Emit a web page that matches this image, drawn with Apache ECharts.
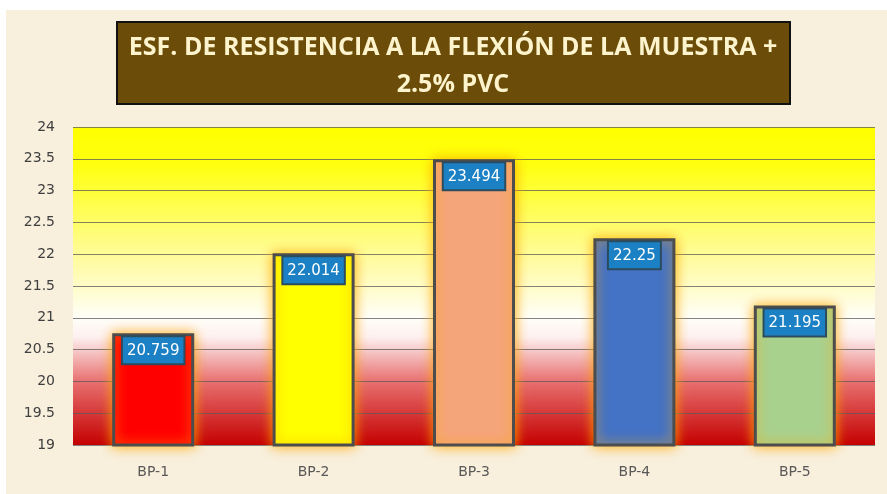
<!DOCTYPE html>
<html>
<head>
<meta charset="utf-8">
<script src="https://cdn.jsdelivr.net/npm/echarts@6/dist/echarts.min.js"></script>
<style>
    html, body { margin: 0; padding: 0; background: #ffffff; }
    #chart { width: 887px; height: 494px; }
</style>
</head>
<body>
<div id="chart"></div>
<script>
// values
const categories = ["BP-1", "BP-2", "BP-3", "BP-4", "BP-5"];
const values = [20.759, 22.014, 23.494, 22.25, 21.195];
const barColors = ["#ff0000", "#ffff00", "#f4a57a", "#4472c4", "#a9d18e"];
const titleLines = ["ESF. DE RESISTENCIA A LA FLEXIÓN DE LA MUESTRA +", "2.5% PVC"];

var chart = echarts.init(document.getElementById("chart"));

// yellow at the top, white around 21, red at the bottom
var plotFill = new echarts.graphic.LinearGradient(0, 0, 0, 1, [
    { offset: 0, color: "#ffff00" },
    { offset: 0.12, color: "#ffff10" },
    { offset: 0.45, color: "#fffbb0" },
    { offset: 0.6, color: "#fffef8" },
    { offset: 0.66, color: "#fdf0f0" },
    { offset: 0.8, color: "#e87070" },
    { offset: 1, color: "#c40000" }
]);

var labelFont = "'DejaVu Sans', sans-serif";

var option = {
    backgroundColor: "#ffffff",
    graphic: [
        {
            type: "rect",
            shape: { x: 6, y: 10, width: 881, height: 484 },
            style: { fill: "#f8efdc" },
            z: -10
        },
        {
            type: "rect",
            shape: { x: 117, y: 22, width: 673, height: 82 },
            style: { fill: "#6b4c09", stroke: "#111111", lineWidth: 2 },
            z: 10
        },
        {
            type: "text",
            x: 453,
            y: 66,
            style: {
                text: titleLines.join("\n"),
                align: "center",
                verticalAlign: "middle",
                fill: "#fdf3cc",
                font: "bold 25px 'Open Sans', sans-serif",
                lineHeight: 37
            },
            z: 11
        }
    ],
    grid: {
        left: 73,
        right: 12,
        top: 127,
        bottom: 49,
        show: true,
        backgroundColor: plotFill,
        borderWidth: 0
    },
    xAxis: {
        type: "category",
        data: categories,
        axisLine: { show: false },
        axisTick: { show: false },
        axisLabel: {
            margin: 20,
            color: "#595959",
            fontSize: 14,
            fontFamily: labelFont
        }
    },
    yAxis: {
        type: "value",
        min: 19,
        max: 24,
        interval: 0.5,
        axisLine: { show: false },
        axisTick: { show: false },
        axisLabel: {
            margin: 18,
            color: "#404040",
            fontSize: 14,
            fontFamily: labelFont
        },
        splitLine: { lineStyle: { color: "rgba(90,90,90,0.75)", width: 1 } }
    },
    series: [{
        type: "bar",
        data: values.map(function (v, i) {
            return { value: v, itemStyle: { color: barColors[i] } };
        }),
        barWidth: 82,
        itemStyle: {
            borderColor: "#4d4d4d",
            borderWidth: 3,
            shadowBlur: 12,
            shadowColor: "rgba(255,170,0,0.9)"
        },
        label: {
            show: true,
            position: "insideTop",
            distance: 4,
            color: "#ffffff",
            fontSize: 15,
            fontFamily: labelFont,
            backgroundColor: "#1b80c4",
            borderColor: "#2c4c5e",
            borderWidth: 2,
            padding: [6, 4, 5, 4]
        }
    }]
};

chart.setOption(option);
</script>
</body>
</html>
